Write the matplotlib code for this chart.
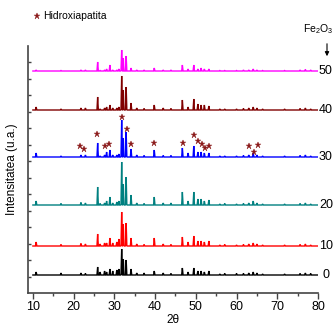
import numpy as np
import matplotlib
matplotlib.use("Agg")
import matplotlib.pyplot as plt
from matplotlib.lines import Line2D

plt.rcParams['font.family'] = ['Liberation Sans', 'DejaVu Sans']
plt.rcParams['mathtext.fontset'] = 'custom'
plt.rcParams['mathtext.rm'] = 'Liberation Sans'
plt.rcParams['mathtext.it'] = 'Liberation Sans'

# ---- data (2theta peak positions, intensities in a.u.) ----
peak_pos = [10.8, 16.9, 21.8, 22.9, 25.9, 26.5, 27.6, 28.1, 28.9, 29.6,
            30.6, 31.1, 31.8, 32.2, 32.9, 34.1, 35.5, 37.3, 39.8, 42.0,
            43.9, 46.7, 48.1, 49.5, 50.5, 51.3, 52.1, 53.2, 55.9, 57.1,
            60.0, 61.7, 63.0, 64.1, 65.0, 66.4, 71.8, 75.6, 76.9, 78.2]

h_0 = [3, 2, 2, 1.5, 8, 3, 4, 3, 6, 4, 5, 6, 26, 16, 15, 6, 2, 2, 4, 2,
       1.5, 7, 3, 7, 4, 4, 3, 4, 1, 1.5, 1.5, 1.5, 2, 3, 2, 1, 1, 1.5, 2, 1.5]
h_10 = [4, 1.5, 2.5, 2, 12, 2, 3, 3, 8, 3, 4, 7, 34, 22, 23, 8, 2, 1.5, 8, 2,
        1.5, 9, 4, 10, 5, 5, 4, 5, 1, 1.5, 1, 1.5, 2, 3, 2, 1, 1, 1.5, 2, 1]
h_20 = [4, 1.5, 2.5, 2, 18, 1.5, 2, 4, 8, 2, 3, 4, 43, 21, 28, 10, 2, 1.5, 8, 2,
        2, 13, 4, 13, 6, 6, 4, 5, 1, 1.5, 1, 1.5, 2, 4, 2, 1, 1, 1.5, 2, 1]
h_30 = [4, 1, 2, 2, 14, 1, 2, 5, 7, 2, 2, 3, 37, 19, 25, 8, 2, 1.5, 7, 1.5,
        1.5, 9, 4, 11, 5, 5, 4, 4, 1, 1, 1, 1.5, 2, 4, 2, 1, 1, 1.5, 2, 1]
h_40 = [3, 1, 2, 2, 13, 1, 2, 3, 5, 2, 2, 3, 34, 20, 23, 7, 2, 1.5, 5, 2,
        1.5, 10, 3, 11, 6, 5, 5, 4, 1, 1, 1, 1.5, 2, 3, 2, 1, 1, 1.5, 2, 1]
h_50 = [1, 0.5, 1, 1, 9, 0.5, 1, 2, 6, 1, 1, 2, 21, 13, 15, 3, 1, 1, 3, 1,
        1, 6, 2, 6, 2, 3, 2, 2, 0.5, 0.5, 0.5, 1, 1, 2, 1, 0.5, 0.5, 1, 1.5, 1]

series_labels = ['0', '10', '20', '30', '40', '50']
series_offsets = [18, 47, 88, 136, 183, 222]
series_heights = [h_0, h_10, h_20, h_30, h_40, h_50]
series_colors = ['#000000', '#ff0000', '#008080', '#0000ff', '#800000', '#ff00ff']

star_theta = [21.6, 22.6, 25.7, 27.8, 28.8, 31.8, 33.0, 34.2, 39.8, 46.8,
              49.5, 50.6, 51.4, 52.2, 53.2, 63.0, 64.3, 65.2]
star_y = [147, 144, 159, 147, 149, 176, 164, 149, 150, 150,
          158, 152, 149, 145, 147, 147, 141, 148]

x_start, x_end = 10.0, 80.0
half_w = 0.17
star_color = '#8b1a1a'

fig = plt.figure(figsize=(3.35, 3.27), dpi=100)
ax = fig.add_axes([28/335, 34/327, 290/335, 247/327])

for lab, off, hs, col in zip(series_labels, series_offsets, series_heights, series_colors):
    xs = [x_start]
    ys = [off]
    for p, h in zip(peak_pos, hs):
        xs += [p - half_w, p, p + half_w]
        ys += [off, off + h, off]
    xs.append(x_end)
    ys.append(off)
    ax.plot(xs, ys, color=col, lw=1.0, solid_joinstyle='miter')
    ax.text(81.95, off, lab, ha='center', va='center', fontsize=9,
            clip_on=False)

ax.plot(star_theta, star_y, linestyle='none', marker='*', markersize=5,
        color=star_color, markeredgewidth=0.3)

ax.set_xlim(8.8, 80)
ax.set_ylim(0, 247)
ax.set_xticks(np.arange(10, 81, 10))
ax.set_xticks(np.arange(15, 80, 10), minor=True)
ax.set_yticks(np.arange(1, 15) * 247 / 15)
ax.set_yticklabels([])
ax.tick_params(axis='x', direction='out', length=4, width=1, labelsize=9,
               color='#444444', pad=2)
ax.tick_params(axis='x', which='minor', direction='out', length=2, width=1,
               color='#444444')
ax.tick_params(axis='y', direction='in', length=2.5, width=1, color='#444444')
for s in ['top', 'right']:
    ax.spines[s].set_visible(False)
for s in ['left', 'bottom']:
    ax.spines[s].set_color('#444444')
    ax.spines[s].set_linewidth(1.2)

ax.set_xlabel('2θ', fontsize=8.5, labelpad=0.5)
ax.set_ylabel('Intensitatea (u.a.)', fontsize=8.5, labelpad=4)

# legend-like annotation
fig.add_artist(Line2D([37/335], [1 - 16/327], transform=fig.transFigure,
                      linestyle='none', marker='*', markersize=5,
                      color=star_color, markeredgewidth=0.3))
fig.text(43/335, 1 - 16/327, 'Hidroxiapatita', fontsize=7.5,
         ha='left', va='center')
fig.text(333/335, 1 - 29/327, 'Fe$_2$O$_3$', fontsize=7.5, ha='right', va='center')
ax.annotate('', xy=(327, 327 - 59), xytext=(327, 327 - 41),
            xycoords='figure pixels', textcoords='figure pixels',
            arrowprops=dict(arrowstyle='-|>', color='black', lw=0.8,
                            mutation_scale=6))

fig.savefig('out.png', dpi=100)
